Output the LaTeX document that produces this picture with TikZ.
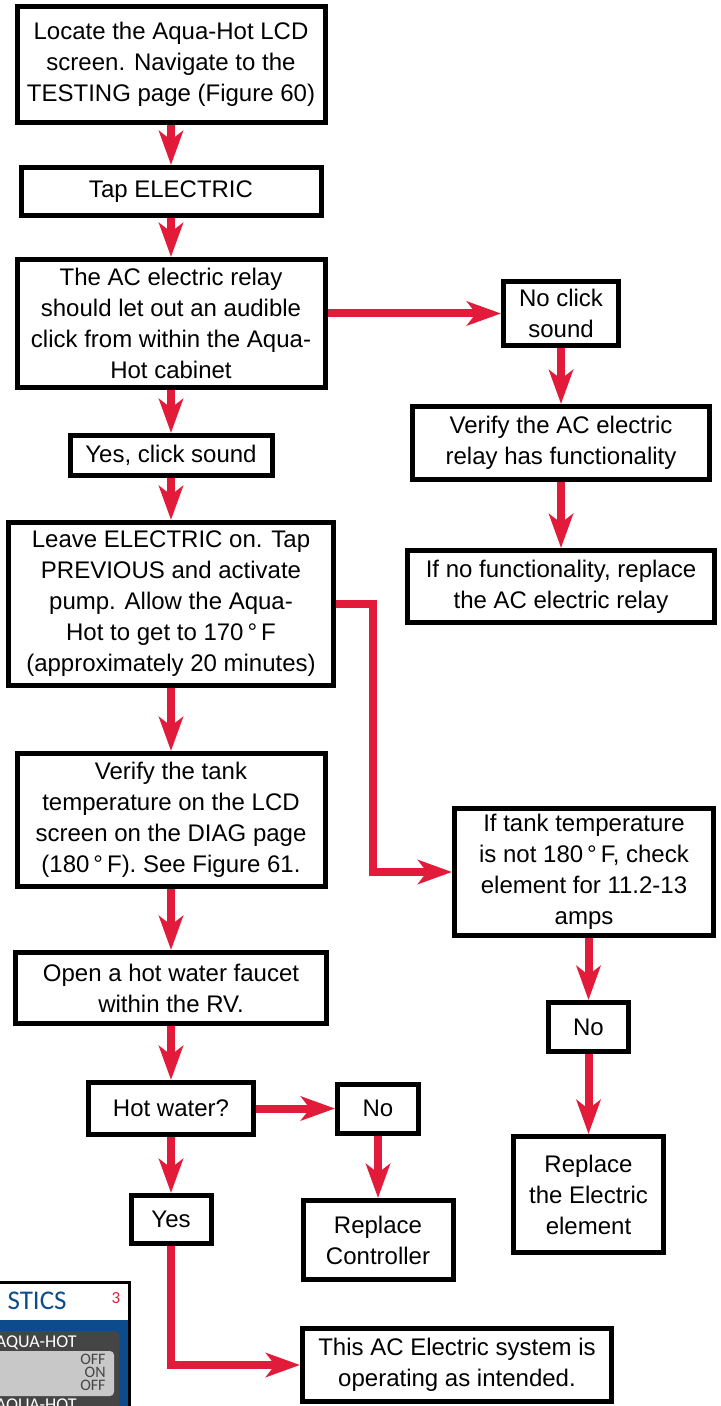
\documentclass[tikz,border=0pt]{standalone}
\usepackage{fontspec}
\setmainfont{Liberation Sans}
\newfontfamily\panelfont{Carlito}
\usetikzlibrary{arrows.meta, positioning}
\definecolor{flowred}{HTML}{E31B3B}
\definecolor{paneblue}{HTML}{0D4C8C}
\definecolor{panedark}{HTML}{454545}
\definecolor{panelight}{HTML}{C8C8C8}
\tikzset{
    box/.style={rectangle, draw, line width=2.5pt, fill=white, inner sep=0pt, align=center, font=\fontsize{12}{15.5}\selectfont},
    arr/.style={-{Stealth[length=17pt, width=12pt, inset=4.5pt]}, line width=4pt, flowred},
    paneltext/.style={inner sep=0pt, font=\panelfont},
}

\begin{document}
\begin{tikzpicture}[x=0.5pt, y=-0.5pt]
\useasboundingbox (0,0) rectangle (721,1406);

% ── main column ──
\node[box, minimum width=154pt, minimum height=58pt] (locate) at (171,64.5) {Locate the Aqua-Hot LCD\\screen. Navigate to the\\TESTING page (Figure 60)};
\node[box, minimum width=150pt, minimum height=24pt] (tap) at (171,191.5) {Tap ELECTRIC};
\node[box, minimum width=154pt, minimum height=64pt] (relay) at (171,323.5) {The AC electric relay\\should let out an audible\\click from within the Aqua-\\Hot cabinet};
\node[box, minimum width=101pt, minimum height=20pt] (yesclick) at (171,455.5) {Yes, click sound};
\node[box, minimum width=162.5pt, minimum height=81.5pt] (leave) at (171,604) {Leave ELECTRIC on. Tap\\PREVIOUS and activate\\pump. Allow the Aqua-\\Hot to get to 170\,°\,F\\(approximately 20 minutes)};
\node[box, minimum width=154pt, minimum height=66.5pt] (vtank) at (171,820) {Verify the tank\\temperature on the LCD\\screen on the DIAG page\\(180\,°\,F). See Figure 61.};
\node[box, minimum width=155.5pt, minimum height=35.5pt] (faucet) at (171,988) {Open a hot water faucet\\within the RV.};
\node[box, minimum width=82.5pt, minimum height=26pt] (hotwater) at (171,1108.5) {Hot water?};
\node[box, minimum width=40pt, minimum height=24pt] (yesw) at (171,1219.5) {Yes};
\node[box, minimum width=40.5pt, minimum height=24.5pt] (now) at (378,1108.5) {No};
\node[box, minimum width=75pt, minimum height=39.5pt] (repctrl) at (378,1240) {Replace\\Controller};
\node[box, minimum width=154.5pt, minimum height=36.5pt] (ok) at (457,1365) {This AC Electric system is\\operating as intended.};

% ── right column ──
\node[box, minimum width=57.5pt, minimum height=32pt] (noclick) at (561,313.5) {No click\\sound};
\node[box, minimum width=148.5pt, minimum height=36.5pt] (vrelay) at (561,443) {Verify the AC electric\\relay has functionality};
\node[box, minimum width=153.5pt, minimum height=36pt] (nofunc) at (561,586.5) {If no functionality, replace\\the AC electric relay};
\node[box, minimum width=129.5pt, minimum height=63.5pt] (iftank) at (584,872) {If tank temperature\\is not 180\,°\,F, check\\element for 11.2-13\\amps};
\node[box, minimum width=40pt, minimum height=24.5pt] (notank) at (588.5,1027) {No};
\node[box, minimum width=75pt, minimum height=58pt] (repelem) at (588.5,1194.5) {Replace\\the Electric\\element};

% ── arrows ──
\draw[arr] (locate) -- (tap);
\draw[arr] (tap) -- (relay);
\draw[arr] (relay) -- (yesclick);
\draw[arr] (relay.east |- noclick.west) -- (noclick.west);
\draw[arr] (noclick) -- (vrelay);
\draw[arr] (vrelay) -- (nofunc);
\draw[arr] (yesclick) -- (leave);
\draw[arr] (leave) -- (vtank);
\draw[arr] (leave.east) -- ++(37,0) |- (iftank.west);
\draw[arr] (vtank) -- (faucet);
\draw[arr] (faucet) -- (hotwater);
\draw[arr] (hotwater) -- (now);
\draw[arr] (hotwater) -- (yesw);
\draw[arr] (now) -- (repctrl);
\draw[arr] (yesw.south) |- (ok.west);
\draw[arr] (iftank.south -| notank) -- (notank);
\draw[arr] (notank) -- (repelem);

% ── screenshot corner ──
\begin{scope}
\clip (0,1270) rectangle (721,1406);
\fill[black] (-10,1281) rectangle (131,1420);
\fill[white] (-10,1284) rectangle (128,1320);
\fill[paneblue] (-10,1320) rectangle (128,1420);
\fill[panedark, rounded corners=2pt] (-10,1331) rectangle (119,1420);
\fill[panelight, rounded corners=2pt] (-10,1351) rectangle (114,1396);
\node[paneltext, anchor=base east, paneblue, font=\panelfont\fontsize{13.5}{13.5}\selectfont] (ptitle) at (67,1309) {STICS};
\node[paneltext, anchor=base, flowred, font=\panelfont\fontsize{8.5}{8.5}\selectfont] (pnum) at (116,1303) {3};
\node[paneltext, anchor=base east, white, font=\panelfont\fontsize{9}{9}\selectfont] (pname) at (77,1347) {AQUA-HOT};
\node[paneltext, anchor=north east, align=right, panedark, font=\panelfont\fontsize{8}{6.3}\selectfont] (pstate) at (106,1354) {OFF\\ON\\OFF};
\node[paneltext, anchor=base east, white, font=\panelfont\fontsize{9}{9}\selectfont] (pnametwo) at (77,1410) {AQUA-HOT};
\end{scope}

\end{tikzpicture}
\end{document}
